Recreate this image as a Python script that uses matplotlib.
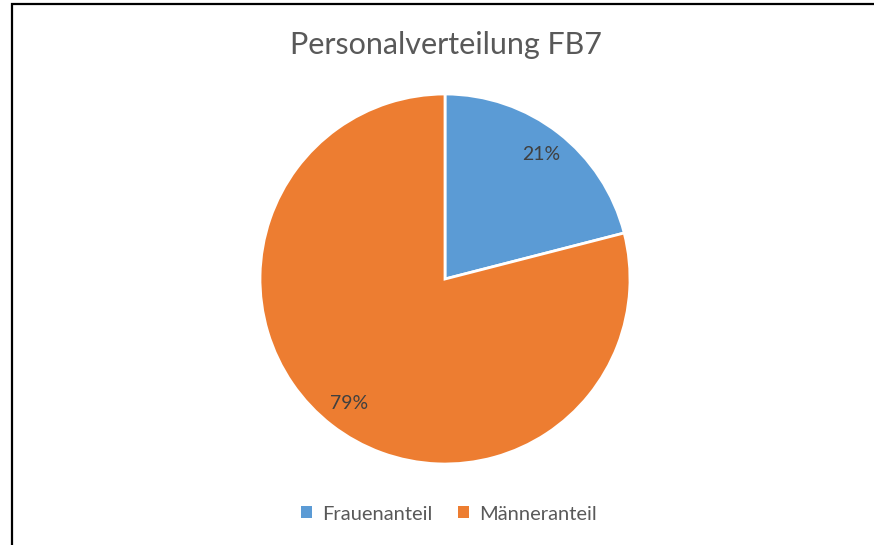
import matplotlib.pyplot as plt
from matplotlib.patches import Rectangle, Patch

labels = ['Frauenanteil', 'Männeranteil']
shares = [21, 79]
colors = ['#5B9BD5', '#ED7D31']

plt.rcParams['font.family'] = ['Lato', 'DejaVu Sans']

W, H = 874, 545
fig = plt.figure(figsize=(W / 100, H / 100), dpi=100)

# pie centre (445, 279) px, radius 185 px
cx, cy, r = 445, 279, 185
lim = 1.05
half = r * lim
ax = fig.add_axes([(cx - half) / W, (H - cy - half) / H, 2 * half / W, 2 * half / H])
wedges, texts, autotexts = ax.pie(
    shares, colors=colors, startangle=90, counterclock=False,
    autopct='%d%%', pctdistance=0.85,
    wedgeprops=dict(edgecolor='white', linewidth=2),
    textprops=dict(color='#404040', fontsize=14))
ax.set_xlim(-lim, lim)
ax.set_ylim(-lim, lim)
ax.set_aspect('equal')

fig.text(446 / W, 1 - 45 / H, 'Personalverteilung FB7', ha='center', va='center',
         fontsize=22, color='#595959')

handles = [Patch(facecolor=c, edgecolor='none') for c in colors]
fig.legend(handles, labels, loc='center', bbox_to_anchor=(449 / W, 1 - 514 / H),
           ncol=2, frameon=False, fontsize=14.5, labelcolor='#595959',
           handlelength=0.55, handleheight=0.55, handletextpad=0.5, columnspacing=1.3)

# chart border (only left and top edges fall inside the image)
fig.patches.append(Rectangle((11.5 / W, -0.1), 1.2, 1 - 4.5 / H + 0.1,
                             transform=fig.transFigure, fill=False,
                             edgecolor='black', linewidth=1.6))

fig.savefig('out.png', dpi=100)
